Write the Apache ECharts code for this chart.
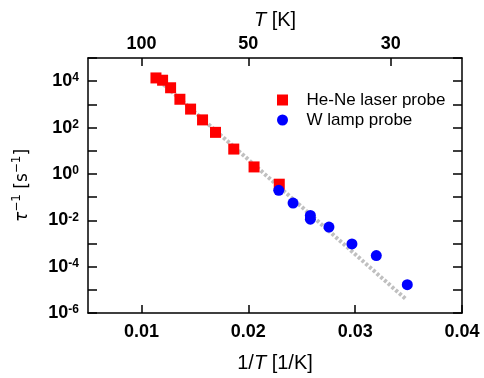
<!DOCTYPE html>
<html>
<head>
<meta charset="utf-8">
<script src="https://cdn.jsdelivr.net/npm/echarts@6/dist/echarts.min.js"></script>
<style>html,body{margin:0;padding:0;background:#fff}#c{width:484px;height:378px}</style>
</head>
<body>
<div id="c"></div>
<script>
// Data
const heNeX = [0.01136, 0.01198, 0.01273, 0.0136, 0.0146, 0.01572, 0.01693, 0.01864, 0.02054, 0.0229];
const heNeY = [13800, 11000, 5200, 1660, 625, 214, 62, 11.8, 2.0, 0.36];
const wX = [0.02285, 0.02419, 0.02581, 0.02581, 0.02755, 0.0297, 0.03198, 0.03488];
const wY = [0.196, 0.055, 0.0162, 0.0112, 0.0051, 0.00095, 0.0003, 1.67e-5];
const fitX = [0.01136, 0.03479];
const fitY = [14000, 3.8e-6];
const xTickValues = [0.01, 0.02, 0.03, 0.04];
const topTempLabels = [100, 50, 30];
const yTickValues = [1e-6, 1e-5, 1e-4, 1e-3, 1e-2, 1e-1, 1, 10, 100, 1e3, 1e4, 1e5];
const yLabelValues = [1e-6, 1e-4, 1e-2, 1, 100, 1e4];
const seriesNames = ['He-Ne laser probe', 'W lamp probe'];

const zip = (a, b) => a.map((v, i) => [v, b[i]]);
const FONT = "'Liberation Sans', Arial, sans-serif";
const chart = echarts.init(document.getElementById('c'), null, {renderer: 'canvas'});

const axisLine = {show: true, onZero: false, lineStyle: {color: '#000', width: 1.5}};
const tickStyle = {color: '#000', width: 1.5};

chart.setOption({
  animation: false,
  backgroundColor: '#fff',
  grid: {left: 88, right: 22, top: 58, bottom: 60, containLabel: false},
  legend: {
    orient: 'vertical', left: 272, top: 85,
    itemWidth: 38, itemHeight: 11, itemGap: 0,
    symbolKeepAspect: true,
    selectedMode: false,
    data: [{name: seriesNames[0], icon: 'path://M0,0H10V10H0Z'}, {name: seriesNames[1], icon: 'circle'}],
    textStyle: {fontFamily: FONT, fontSize: 17, color: '#000', lineHeight: 20}
  },
  xAxis: [{
    type: 'value', position: 'bottom', min: 0.005, max: 0.04,
    axisLine: axisLine,
    splitLine: {show: false},
    axisTick: {show: true, inside: true, length: 8, lineStyle: tickStyle, customValues: xTickValues},
    axisLabel: {customValues: xTickValues, margin: 10, fontFamily: FONT, fontSize: 18, fontWeight: 'bold', color: '#000',
      formatter: v => v.toFixed(2)},
    name: '{n|1/}{i|T}{n| [1/K]}', nameLocation: 'middle', nameGap: 40,
    nameTextStyle: {rich: {n: {fontFamily: FONT, fontSize: 20, color: '#000'}, i: {fontFamily: FONT, fontSize: 20, fontStyle: 'italic', color: '#000'}}}
  }, {
    type: 'value', position: 'top', min: 0.005, max: 0.04,
    axisLine: axisLine,
    splitLine: {show: false},
    axisTick: {show: true, inside: true, length: 8, lineStyle: tickStyle, customValues: topTempLabels.map(t => 1 / t)},
    axisLabel: {customValues: topTempLabels.map(t => 1 / t), margin: 5, fontFamily: FONT, fontSize: 18, fontWeight: 'bold', color: '#000',
      formatter: v => String(Math.round(1 / v))},
    name: '{i|T}{n| [K]}', nameLocation: 'middle', nameGap: 27,
    nameTextStyle: {rich: {n: {fontFamily: FONT, fontSize: 20, color: '#000'}, i: {fontFamily: FONT, fontSize: 20, fontStyle: 'italic', color: '#000'}}}
  }],
  yAxis: [{
    type: 'log', logBase: 10, position: 'left', min: 1e-6, max: 1e5,
    axisLine: axisLine,
    splitLine: {show: false},
    minorTick: {show: false},
    axisTick: {show: true, inside: true, length: 9, lineStyle: tickStyle, customValues: yTickValues},
    axisLabel: {customValues: yLabelValues, margin: 9, color: '#000',
      formatter: v => '{b|10}{s|' + Math.round(Math.log10(v)) + '}',
      rich: {
        b: {fontFamily: FONT, fontSize: 18, fontWeight: 'bold', color: '#000', lineHeight: 18, padding: [6, 0, 0, 0], verticalAlign: 'bottom'},
        s: {fontFamily: FONT, fontSize: 12, fontWeight: 'bold', color: '#000', verticalAlign: 'top', lineHeight: 12}
      }},
    name: '{i|τ}{s|−1}{n| [s}{s|−1}{n|]}', nameLocation: 'middle', nameGap: 53, nameRotate: 90,
    nameTextStyle: {rich: {
      n: {fontFamily: "'DejaVu Sans', sans-serif", fontSize: 17, color: '#000', lineHeight: 24},
      i: {fontFamily: "'DejaVu Sans', sans-serif", fontSize: 17, fontStyle: 'italic', color: '#000', lineHeight: 24},
      s: {fontFamily: "'DejaVu Sans', sans-serif", fontSize: 12, color: '#000', verticalAlign: 'top', lineHeight: 12}
    }}
  }, {
    type: 'log', logBase: 10, position: 'right', min: 1e-6, max: 1e5,
    axisLine: axisLine,
    splitLine: {show: false},
    axisTick: {show: true, inside: true, length: 9, lineStyle: tickStyle, customValues: yTickValues},
    axisLabel: {show: false}
  }],
  series: [{
    name: 'fit', type: 'line', xAxisIndex: 0, yAxisIndex: 0,
    data: zip(fitX, fitY), showSymbol: false, symbol: 'none', z: 1, silent: true,
    lineStyle: {color: '#c0c0c0', width: 4, type: [3, 2]}
  }, {
    name: seriesNames[0], type: 'scatter', xAxisIndex: 0, yAxisIndex: 0,
    data: zip(heNeX, heNeY), symbol: 'rect', symbolSize: 11, z: 3,
    itemStyle: {color: '#ff0000', opacity: 1}
  }, {
    name: seriesNames[1], type: 'scatter', xAxisIndex: 0, yAxisIndex: 0,
    data: zip(wX, wY), symbol: 'circle', symbolSize: 11, z: 4,
    itemStyle: {color: '#0000ff', opacity: 1}
  }]
});
</script>
</body>
</html>
